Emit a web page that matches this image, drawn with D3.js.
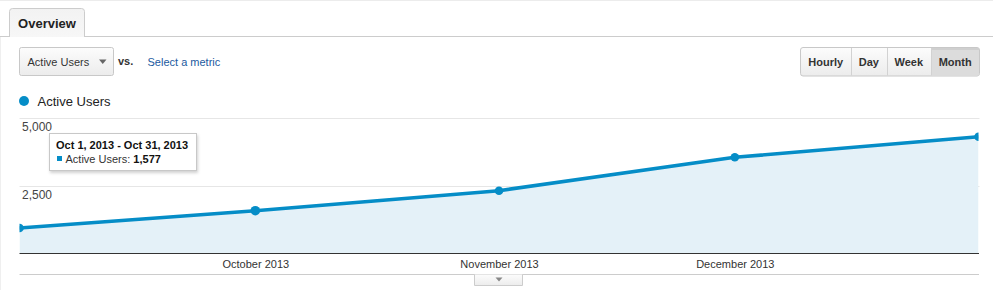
<!DOCTYPE html>
<html lang="en">
<head>
    <meta charset="UTF-8">
    <title>Overview - Active Users</title>
    <script src="https://d3js.org/d3.v7.min.js"></script>
    <style>
        body {
            margin: 0;
            background: #fff;
            font-family: Arial, "Liberation Sans", sans-serif;
        }

        #canvas {
            display: block;
        }

        .axis-text {
            font-size: 11px;
            fill: #333;
        }

        .y-text {
            font-size: 12px;
            fill: #444;
        }

        .btn-text {
            font-size: 11px;
            font-weight: bold;
            fill: #333;
        }
    </style>
</head>

<body>
<svg id="canvas" width="993" height="290"></svg>

<script>
    // data
    let monthStarts = ["2013-09-01", "2013-10-01", "2013-11-01", "2013-12-01", "2014-01-01"];
    let activeUsers = [937, 1577, 2319, 3556, 4319];
    let yTicks = [2500, 5000];
    let xTickMonths = ["2013-10-01", "2013-11-01", "2013-12-01"];
    let periodButtons = ["Hourly", "Day", "Week", "Month"];
    let selectedPeriod = "Month";
    let metricName = "Active Users";
    let hoverIndex = 1;
    let hoverRange = "Oct 1, 2013 - Oct 31, 2013";

    const blue = "#058dc7";
    const parse = d3.timeParse("%Y-%m-%d");
    let points = monthStarts.map((d, i) => ({date: parse(d), value: activeUsers[i]}));

    let svg = d3.select("#canvas");
    let defs = svg.append("defs");

    let grad = defs.append("linearGradient").attr("id", "btnGrad")
        .attr("x1", 0).attr("y1", 0).attr("x2", 0).attr("y2", 1);
    grad.append("stop").attr("offset", "0%").attr("stop-color", "#fcfcfc");
    grad.append("stop").attr("offset", "100%").attr("stop-color", "#ececec");

    let tabGrad = defs.append("linearGradient").attr("id", "tabGrad")
        .attr("x1", 0).attr("y1", 0).attr("x2", 0).attr("y2", 1);
    tabGrad.append("stop").attr("offset", "0%").attr("stop-color", "#f2f2f2");
    tabGrad.append("stop").attr("offset", "100%").attr("stop-color", "#f7f7f7");

    let shadow = defs.append("filter").attr("id", "shadow")
        .attr("x", "-10%").attr("y", "-20%").attr("width", "130%").attr("height", "160%");
    shadow.append("feDropShadow").attr("dx", 1).attr("dy", 2).attr("stdDeviation", 1.5)
        .attr("flood-color", "#000").attr("flood-opacity", 0.18);

    // page frame
    svg.append("line").attr("x1", 0).attr("x2", 993).attr("y1", 0.5).attr("y2", 0.5)
        .attr("stroke", "#ececec");
    svg.append("line").attr("x1", 0.5).attr("x2", 0.5).attr("y1", 36).attr("y2", 290)
        .attr("stroke", "#efefef");
    svg.append("line").attr("x1", 0).attr("x2", 993).attr("y1", 36.5).attr("y2", 36.5)
        .attr("stroke", "#cccccc");

    // Overview tab
    svg.append("path")
        .attr("d", "M9.5,37 V11.5 Q9.5,8.5 12.5,8.5 H81.5 Q84.5,8.5 84.5,11.5 V37")
        .attr("fill", "url(#tabGrad)").attr("stroke", "#cccccc");
    svg.append("text").attr("x", 47).attr("y", 27.5).attr("text-anchor", "middle")
        .style("font-size", "13px").style("font-weight", "bold").attr("fill", "#222")
        .text("Overview");

    // metric dropdown
    svg.append("rect").attr("x", 19.5).attr("y", 47.5).attr("width", 94).attr("height", 28)
        .attr("rx", 2).attr("fill", "url(#btnGrad)").attr("stroke", "#c8c8c8");
    svg.append("text").attr("x", 27.5).attr("y", 66).style("font-size", "11px").attr("fill", "#333")
        .text(metricName);
    svg.append("path").attr("d", "M99,59.5 L106.5,59.5 L102.75,64 Z").attr("fill", "#666");
    svg.append("text").attr("x", 118).attr("y", 64.5).style("font-size", "11px")
        .style("font-weight", "bold").attr("fill", "#333").text("vs.");
    svg.append("text").attr("x", 147.5).attr("y", 66).style("font-size", "11px")
        .attr("fill", "#1b5aa0").text("Select a metric");

    // period buttons, laid out from their text widths
    let btnG = svg.append("g");
    let pad = 7.8;
    let widths = periodButtons.map(function (b) {
        let t = btnG.append("text").attr("class", "btn-text").text(b);
        let w = t.node().getComputedTextLength() + pad * 2;
        t.remove();
        return w;
    });
    let totalW = d3.sum(widths);
    let bx = 979.5 - totalW;
    btnG.append("rect").attr("x", bx).attr("y", 47.5).attr("width", totalW).attr("height", 28.5)
        .attr("rx", 2.5).attr("fill", "url(#btnGrad)").attr("stroke", "#c8c8c8");
    let cx = bx;
    periodButtons.forEach(function (b, i) {
        if (b === selectedPeriod) {
            btnG.append("rect").attr("x", cx + 0.5).attr("y", 48).attr("width", widths[i] - 1)
                .attr("height", 27.5).attr("fill", "#dcdcdc");
            btnG.append("rect").attr("x", cx + 0.5).attr("y", 48).attr("width", widths[i] - 1)
                .attr("height", 2).attr("fill", "#cfcfcf");
        }
        if (i > 0) {
            btnG.append("line").attr("x1", Math.round(cx) + 0.5).attr("x2", Math.round(cx) + 0.5)
                .attr("y1", 48).attr("y2", 75.5).attr("stroke", "#d2d2d2");
        }
        btnG.append("text").attr("class", "btn-text").attr("x", cx + widths[i] / 2).attr("y", 66)
            .attr("text-anchor", "middle").text(b);
        cx += widths[i];
    });

    // legend
    svg.append("circle").attr("cx", 24).attr("cy", 101).attr("r", 5).attr("fill", blue);
    svg.append("text").attr("x", 37.5).attr("y", 105.5).style("font-size", "13px")
        .attr("fill", "#222").text(metricName);

    // chart
    let left = 19.5, right = 979.5, baseY = 253.3;
    let x = d3.scaleTime()
        .domain(d3.extent(points, d => d.date))
        .range([19.5, 978.5]);
    let y = d3.scaleLinear()
        .domain([0, 5000])
        .range([baseY, 118.3]);

    defs.append("clipPath").attr("id", "plotClip")
        .append("rect").attr("x", left).attr("y", 100).attr("width", right - left - 1).attr("height", 160);

    let grid = svg.append("g");
    grid.selectAll("line").data(yTicks).enter().append("line")
        .attr("x1", left).attr("x2", right)
        .attr("y1", d => Math.round(y(d)) + 0.5).attr("y2", d => Math.round(y(d)) + 0.5)
        .attr("stroke", "#e6e6e6");

    let plot = svg.append("g").attr("clip-path", "url(#plotClip)");
    let area = d3.area().x(d => x(d.date)).y0(baseY).y1(d => y(d.value));
    let line = d3.line().x(d => x(d.date)).y(d => y(d.value));

    plot.append("path").datum(points).attr("d", area).attr("fill", "#e4f1f8");
    plot.append("path").datum(points).attr("d", line).attr("fill", "none")
        .attr("stroke", blue).attr("stroke-width", 3.6).attr("stroke-linejoin", "round");
    plot.selectAll("circle").data(points).enter().append("circle")
        .attr("cx", d => x(d.date)).attr("cy", d => y(d.value))
        .attr("r", d => d === points[hoverIndex] ? 4.8 : 4.3)
        .attr("fill", blue);

    svg.selectAll(".y-text").data(yTicks).enter().append("text")
        .attr("class", "y-text")
        .attr("x", 22).attr("y", d => y(d) + 13)
        .text(d3.format(","));

    // baseline and x axis
    svg.append("line").attr("x1", left).attr("x2", right - 0.5).attr("y1", 253.5).attr("y2", 253.5)
        .attr("stroke", "#333").attr("stroke-width", 1.2);
    let xAxis = d3.axisBottom(x)
        .tickValues(xTickMonths.map(parse))
        .tickSize(0)
        .tickPadding(0)
        .tickFormat(d3.timeFormat("%B %Y"));
    let xg = svg.append("g").attr("transform", "translate(0,260)").call(xAxis);
    xg.select(".domain").remove();
    xg.selectAll("text").attr("class", "axis-text").attr("fill", "#333")
        .style("font-family", "Arial, 'Liberation Sans', sans-serif").attr("dy", "0.75em");

    svg.append("line").attr("x1", left).attr("x2", right - 0.5).attr("y1", 274.5).attr("y2", 274.5)
        .attr("stroke", "#cccccc");

    // little expander tab under the axis
    svg.append("path").attr("d", "M474.5,274.5 V285.5 H522.5 V274.5")
        .attr("fill", "url(#btnGrad)").attr("stroke", "#cccccc");
    svg.append("path").attr("d", "M495.5,277.5 L502.5,277.5 L499,281.5 Z").attr("fill", "#888");

    // tooltip for the hovered month
    let hp = points[hoverIndex];
    let tip = svg.append("g").attr("transform", "translate(49.5,133.5)");
    tip.append("rect").attr("width", 147).attr("height", 37).attr("fill", "#fff")
        .attr("stroke", "#c8c8c8").attr("filter", "url(#shadow)");
    tip.append("text").attr("x", 6.5).attr("y", 15).style("font-size", "11px")
        .style("font-weight", "bold").attr("fill", "#111").text(hoverRange);
    tip.append("rect").attr("x", 7.5).attr("y", 22.5).attr("width", 5).attr("height", 5).attr("fill", blue);
    let t2 = tip.append("text").attr("x", 16).attr("y", 29.5).style("font-size", "11px").attr("fill", "#333");
    t2.append("tspan").text(metricName + ": ");
    t2.append("tspan").style("font-weight", "bold").attr("fill", "#111").text(d3.format(",")(hp.value));

</script>
</body>
</html>
